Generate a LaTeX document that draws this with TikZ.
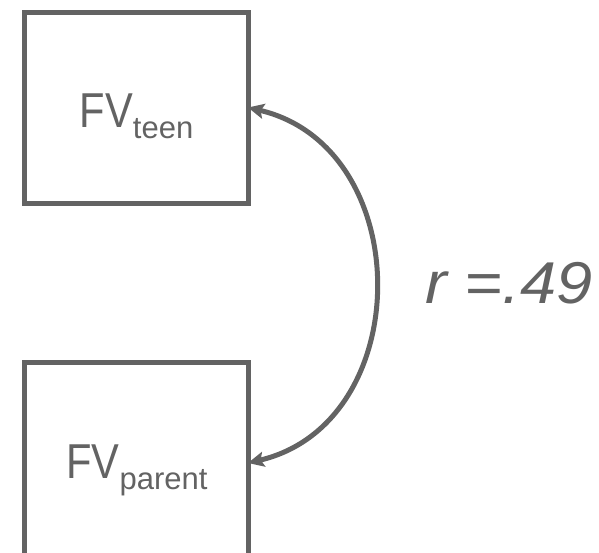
\documentclass[tikz,border=0pt]{standalone}
\usepackage{fontspec}
\setmainfont{Liberation Sans}
\newfontfamily\boxfont[FakeStretch=0.85]{Liberation Sans}
\newfontfamily\wideit[FakeStretch=1.1]{Liberation Sans Italic}
\usetikzlibrary{arrows.meta,calc}
\definecolor{ink}{RGB}{99,99,99}
\begin{document}
\begin{tikzpicture}[x=1pt,y=-1pt,
  box/.style={draw=ink,line width=5pt,inner sep=0pt,outer sep=0pt,
    minimum width=223.5pt,minimum height=191pt,anchor=north west},
  lbl/.style={text=ink,inner sep=0pt,anchor=base},
  conn/.style={draw=ink,line width=5pt,
    {Stealth[length=16pt,width=15pt,inset=3pt]}-{Stealth[length=16pt,width=15pt,inset=3pt]}},
  rlbl/.style={text=ink,inner sep=0pt,anchor=base west,font=\fontsize{59}{60}\selectfont\wideit}]
\useasboundingbox (0,0) rectangle (599,552);
\node[box] (teen) at (24.5,12) {};
\node[box,minimum height=210pt] (parent) at (24.5,362.5) {};
\node[lbl] (teenlabel) at (136.5,127)
  {{\boxfont\fontsize{49}{50}\selectfont FV}\raisebox{-11pt}{\fontsize{31}{31}\selectfont teen}};
\node[lbl] (parentlabel) at (137,478)
  {{\boxfont\fontsize{49}{50}\selectfont FV}\raisebox{-11pt}{\fontsize{31}{31}\selectfont parent}};
\coordinate (pe) at ([yshift=-100.5pt]parent.north east);
\draw[conn] (teen.east) .. controls ($(teen.east)+(169,40)$) and ($(pe)+(169,-40)$) .. (pe);
\node[rlbl] (rlabel) at (425,303) {r =.49};
\end{tikzpicture}
\end{document}
